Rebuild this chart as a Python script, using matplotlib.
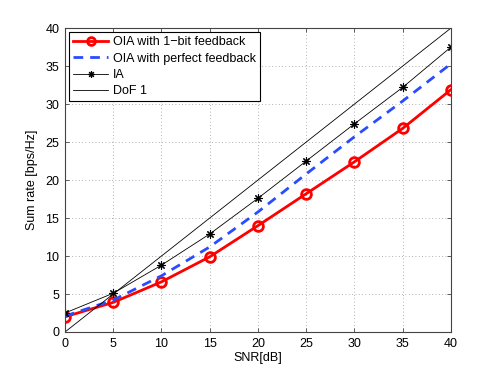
import numpy as np
import matplotlib
matplotlib.use("Agg")
import matplotlib.pyplot as plt

plt.rcParams['font.family'] = ['Liberation Sans', 'DejaVu Sans']

snr = [0, 5, 10, 15, 20, 25, 30, 35, 40]
oia_1bit = [2.0, 3.9, 6.6, 9.9, 14.0, 18.2, 22.4, 26.8, 31.9]
oia_perfect = [2.1, 4.2, 7.4, 11.2, 15.8, 20.8, 25.7, 30.4, 35.3]
ia = [2.5, 5.1, 8.8, 12.9, 17.6, 22.5, 27.4, 32.2, 37.5]
dof1 = [0, 40]
dof1_x = [0, 40]

fig = plt.figure(figsize=(4.98, 3.74), dpi=100)
ax = fig.add_axes([0.1305, 0.1123, 0.7751, 0.8127])

ax.plot(snr, oia_1bit, color='red', lw=2, marker='o', ms=7, mfc='none', mew=2,
        label='OIA with 1\u2212bit feedback')
ax.plot(snr, oia_perfect, color='#2a4cff', lw=2, ls=(0, (3.5, 2.5)),
        label='OIA with perfect feedback')
ax.plot(snr, ia, color='black', lw=0.6, marker=(8, 2, 0), ms=6, mew=0.8, label='IA')
ax.plot(dof1_x, dof1, color='black', lw=0.6, label='DoF 1')

ax.set_xlim(0, 40)
ax.set_ylim(0, 40)
ax.set_xticks(range(0, 41, 5))
ax.set_yticks(range(0, 41, 5))
ax.grid(True, ls=(0, (1, 3)), color='#999999', lw=0.6)
ax.tick_params(direction='in', top=True, right=True, labelsize=9, length=3, width=0.6,
               colors='#444444', labelcolor='black', pad=4)
for s in ax.spines.values():
    s.set_color('#444444')
    s.set_linewidth(0.8)

ax.set_xlabel('SNR[dB]', fontsize=9, labelpad=2)
ax.set_ylabel('Sum rate [bps/Hz]', fontsize=9, labelpad=5)

leg = ax.legend(loc='upper left', fontsize=9, fancybox=False, framealpha=1,
                edgecolor='black', handlelength=2.8, borderaxespad=0.35,
                labelspacing=0.35, borderpad=0.3, handletextpad=0.4, markerscale=0.8)
leg.get_frame().set_linewidth(0.8)

fig.savefig('out.png', dpi=100)
